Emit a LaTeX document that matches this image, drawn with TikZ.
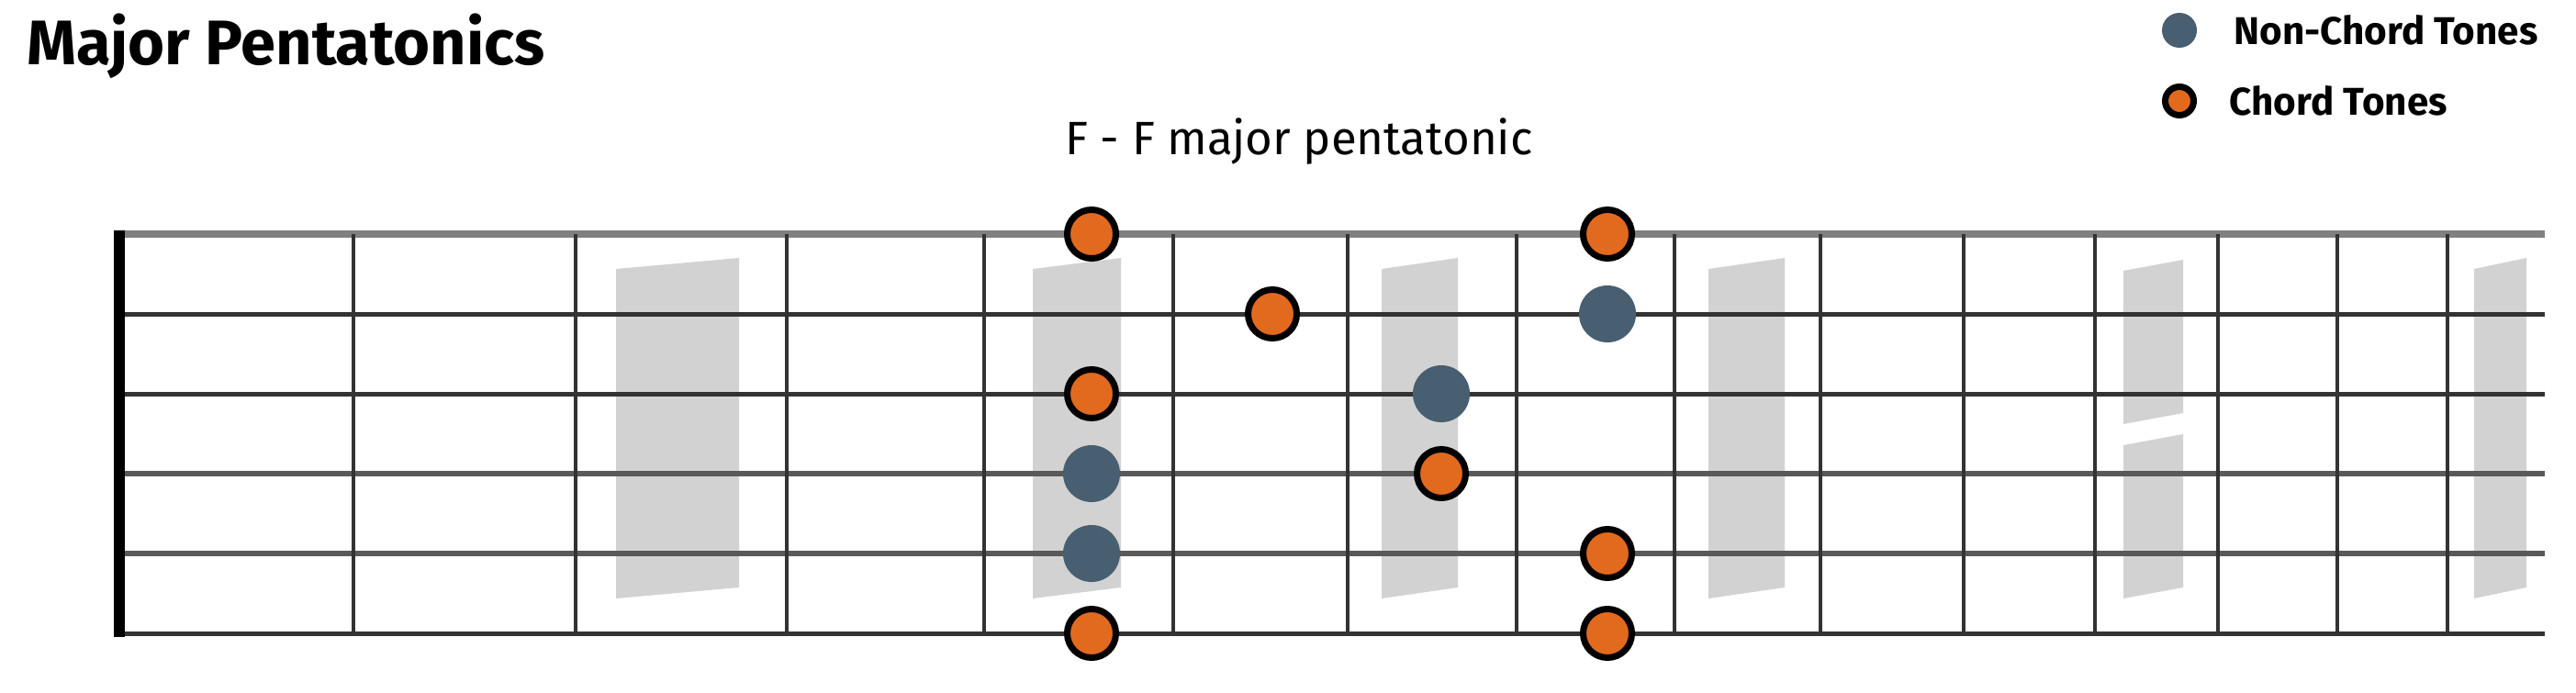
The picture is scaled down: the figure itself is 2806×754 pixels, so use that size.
\documentclass[tikz,border=0pt]{standalone}
\usepackage{fontspec}
\setmainfont{Fira Sans}
\usetikzlibrary{positioning}
\definecolor{tonered}{HTML}{E26A1E}
\definecolor{toneslate}{HTML}{485E71}
\definecolor{inlaygray}{HTML}{D2D2D2}

\begin{document}
\begin{tikzpicture}[x=0.01cm,y=-0.01cm,
  chord/.style={circle,draw=black,fill=tonered,line width=0.07cm,minimum size=0.53cm,inner sep=0pt},
  nonchord/.style={circle,fill=toneslate,minimum size=0.62cm,inner sep=0pt},
  fretline/.style={line width=0.04cm,draw=black!80},
  inlay/.style={fill=inlaygray},
  legend/.style={font=\bfseries\fontsize{12}{14}\selectfont,inner sep=0pt},
  node distance=10pt and 14pt]
\useasboundingbox[fill=white] (0,0) rectangle (2806,754);

\node[font=\bfseries\fontsize{19.5}{22}\selectfont,anchor=base west,inner sep=0pt] (title) at (29,70) {Major Pentatonics};
\node[font=\fontsize{14.5}{17}\selectfont,anchor=base,inner sep=0pt] (scalename) at (1415,168) {F - F major pentatonic};

\node[nonchord,minimum size=0.38cm] (keynon) at (2374,33) {};
\node[legend,right=0.39cm of keynon] (keynontext) {Non-Chord Tones};
\node[chord,minimum size=0.31cm] (keychord) at (2374,110) {};
\node[legend,right=0.35cm of keychord] (keychordtext) {Chord Tones};

\foreach \a/\b in {671/805,1125/1221,1505/1588,1861/1944,2695/2752}
  \fill[inlay] (\a,293) -- (\b,281) -- (\b,640) -- (\a,652) -- cycle;
\fill[inlay] (2313,295) -- (2378,283) -- (2378,450) -- (2313,462) -- cycle;
\fill[inlay] (2313,485) -- (2378,473) -- (2378,640) -- (2313,652) -- cycle;

\foreach \y/\w/\c in {255/0.08/black!50,342/0.05/black!80,429/0.05/black!80,516/0.06/black!65,603/0.06/black!65,690/0.05/black!80}
  \draw[line width=\w cm,draw=\c] (129,\y) -- (2772,\y);
\foreach \x in {385,627,857,1072,1278,1468,1652,1824,1983,2139,2282,2416,2546,2666}
  \draw[fretline] (\x,255) -- (\x,690);
\draw[line width=0.12cm] (130,251) -- (130,694);

\node[chord] (a1) at (1189,255) {};
\node[chord] (a3) at (1189,429) {};
\node[nonchord] (a4) at (1189,516) {};
\node[nonchord] (a5) at (1189,603) {};
\node[chord] (a6) at (1189,690) {};
\node[chord] (b2) at (1386,342) {};
\node[nonchord] (c3) at (1570,429) {};
\node[chord] (c4) at (1570,516) {};
\node[chord] (d1) at (1751,255) {};
\node[nonchord] (d2) at (1751,342) {};
\node[chord] (d5) at (1751,603) {};
\node[chord] (d6) at (1751,690) {};
\end{tikzpicture}
\end{document}
